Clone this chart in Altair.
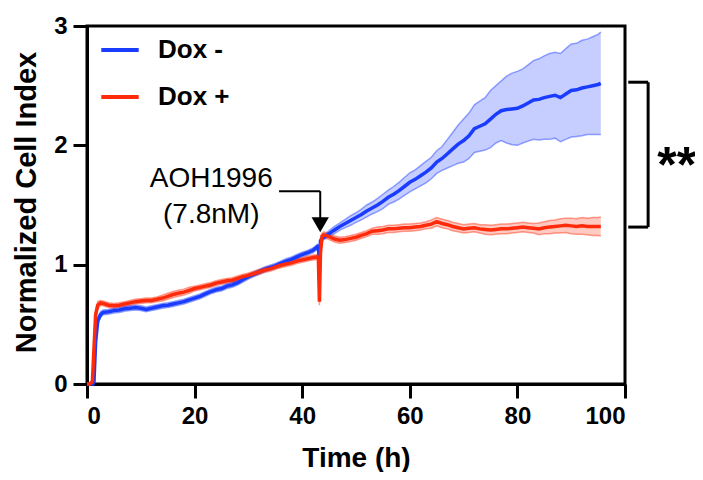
import altair as alt
import pandas as pd

# ---------------- data ----------------
times = [0, 0.5, 1.0, 1.3, 1.6, 2.0, 2.5,
         3, 4, 5, 6, 7, 8, 9, 10, 11, 12, 13, 14, 15, 16, 17, 18, 19, 20, 21, 22,
         23, 24, 25, 26, 27, 28, 29, 30, 31, 32, 33, 34, 35, 36, 37, 38, 39, 40, 41, 42,
         42.8, 43.0, 43.2, 43.4, 43.7,
         44, 45, 46, 47, 48, 49, 50, 51, 52, 53, 54, 55, 56, 57, 58, 59, 60, 61, 62, 63,
         64, 65, 66, 67, 68, 69, 70, 71, 72, 73, 74, 75, 76, 77, 78, 79, 80, 81, 82, 83,
         84, 85, 86, 87, 88, 89, 90, 91, 92, 93, 94, 95,
         95.5]

dox_minus = [0, 0, 0, 0.02, 0.35, 0.53, 0.58,
             0.60, 0.605, 0.615, 0.62, 0.63, 0.635, 0.64, 0.635, 0.625, 0.635,
             0.645, 0.655, 0.66, 0.67, 0.68, 0.69, 0.705, 0.72, 0.735, 0.755,
             0.775, 0.79, 0.80, 0.82, 0.83, 0.85, 0.875, 0.90, 0.92, 0.94,
             0.96, 0.975, 0.99, 1.01, 1.03, 1.045, 1.065, 1.085, 1.10, 1.12,
             1.15, 1.13, 1.06, 1.20, 1.22,
             1.23, 1.26, 1.29, 1.32, 1.345, 1.37, 1.395, 1.42, 1.45, 1.475,
             1.50, 1.53, 1.565, 1.59, 1.62, 1.655, 1.69, 1.715, 1.745, 1.775,
             1.81, 1.86, 1.89, 1.93, 1.97, 2.01, 2.04, 2.08, 2.14, 2.16,
             2.18, 2.22, 2.26, 2.29, 2.30, 2.305, 2.31, 2.33, 2.355, 2.38,
             2.385, 2.40, 2.41, 2.42, 2.40, 2.43, 2.46, 2.465, 2.48, 2.49,
             2.50, 2.51,
             2.52]

dox_minus_sd = [0, 0, 0, 0.03, 0.04, 0.03, 0.025,
                0.02, 0.02, 0.02, 0.02, 0.02, 0.02, 0.02, 0.02, 0.02, 0.02,
                0.02, 0.02, 0.02, 0.02, 0.02, 0.02, 0.02, 0.02, 0.02, 0.02,
                0.02, 0.02, 0.02, 0.02, 0.02, 0.02, 0.02, 0.02, 0.02, 0.02,
                0.02, 0.02, 0.02, 0.02, 0.02, 0.02, 0.02, 0.02, 0.02, 0.02,
                0.02, 0.02, 0.03, 0.03, 0.025,
                0.02, 0.025, 0.03, 0.03, 0.035, 0.04, 0.04, 0.045, 0.05, 0.05,
                0.055, 0.06, 0.06, 0.065, 0.07, 0.075, 0.08, 0.08, 0.085, 0.09,
                0.09, 0.095, 0.10, 0.12, 0.14, 0.16, 0.18, 0.19, 0.20, 0.21,
                0.22, 0.24, 0.24, 0.25, 0.28, 0.30, 0.31, 0.31, 0.32, 0.33,
                0.34, 0.35, 0.36, 0.36, 0.37, 0.38, 0.39, 0.39, 0.40, 0.40,
                0.41, 0.42,
                0.43]

dox_plus = [0, 0, 0.02, 0.30, 0.58, 0.66, 0.68,
            0.675, 0.66, 0.655, 0.66, 0.67, 0.68, 0.69, 0.695, 0.70, 0.70,
            0.71, 0.72, 0.735, 0.75, 0.76, 0.77, 0.785, 0.80, 0.81, 0.82,
            0.83, 0.845, 0.855, 0.865, 0.87, 0.885, 0.90, 0.91, 0.925, 0.94,
            0.955, 0.965, 0.98, 0.995, 1.005, 1.015, 1.03, 1.04, 1.05, 1.06,
            1.065, 1.06, 0.69, 1.10, 1.24,
            1.25, 1.235, 1.215, 1.205, 1.21, 1.22, 1.23, 1.245, 1.26, 1.28,
            1.285, 1.29, 1.30, 1.30, 1.305, 1.31, 1.31, 1.315, 1.32, 1.33,
            1.34, 1.36, 1.345, 1.335, 1.32, 1.31, 1.30, 1.305, 1.31, 1.30,
            1.295, 1.29, 1.295, 1.30, 1.30, 1.305, 1.31, 1.315, 1.31, 1.305,
            1.30, 1.31, 1.315, 1.32, 1.325, 1.33, 1.325, 1.32, 1.325, 1.32,
            1.32, 1.32,
            1.32]

dox_plus_sd = [0, 0, 0.02, 0.05, 0.04, 0.03, 0.02,
               0.02, 0.02, 0.02, 0.02, 0.02, 0.02, 0.02, 0.02, 0.02, 0.02,
               0.02, 0.025, 0.025, 0.025, 0.025, 0.025, 0.025, 0.02, 0.02, 0.02,
               0.02, 0.02, 0.02, 0.02, 0.02, 0.02, 0.02, 0.02, 0.02, 0.02,
               0.02, 0.02, 0.02, 0.02, 0.02, 0.02, 0.02, 0.02, 0.02, 0.02,
               0.02, 0.02, 0.03, 0.03, 0.025,
               0.025, 0.025, 0.025, 0.025, 0.025, 0.025, 0.025, 0.025, 0.025, 0.025,
               0.03, 0.03, 0.03, 0.03, 0.03, 0.03, 0.03, 0.03, 0.03, 0.03,
               0.035, 0.035, 0.035, 0.035, 0.035, 0.035, 0.035, 0.035, 0.035, 0.035,
               0.04, 0.04, 0.04, 0.04, 0.04, 0.04, 0.04, 0.04, 0.04, 0.04,
               0.05, 0.05, 0.055, 0.055, 0.06, 0.06, 0.065, 0.065, 0.07, 0.07,
               0.075, 0.075,
               0.08]

series_names = ["Dox -", "Dox +"]
series_colors = ["#1a3cff", "#ff2a0a"]
x_ticks = [0, 20, 40, 60, 80, 100]
y_ticks = [0, 1, 2, 3]

n = len(times)
df = pd.DataFrame({
    "time": times * 2,
    "value": dox_minus + dox_plus,
    "sd": dox_minus_sd + dox_plus_sd,
    "series": [series_names[0]] * n + [series_names[1]] * n,
})
df["lower"] = df["value"] - df["sd"]
df["upper"] = df["value"] + df["sd"]

FONT = "Liberation Sans"

x_axis = alt.Axis(values=x_ticks, title="Time (h)", titleX=269, titleY=82,
                  titleBaseline="alphabetic", titleAlign="center", labelPadding=6)
y_axis = alt.Axis(values=y_ticks, title="Normalized Cell Index", titleX=-52, titleY=176,
                  titleAngle=270, titleBaseline="alphabetic", titleAlign="center",
                  labelPadding=6, titleFontSize=29)
x_scale = alt.Scale(domain=[0, 100], nice=False, zero=False)
y_scale = alt.Scale(domain=[0, 3], nice=False)

def X(field="time"):
    return alt.X(f"{field}:Q", scale=x_scale, axis=x_axis)

def Y(field):
    return alt.Y(f"{field}:Q", scale=y_scale, axis=y_axis)

legend = alt.Legend(orient="none", legendX=12, legendY=3, title=None,
                    symbolType="stroke", symbolSize=1400, symbolStrokeWidth=4,
                    symbolOpacity=1, labelFont=FONT, labelFontSize=26,
                    labelFontWeight="bold", labelColor="black", labelOffset=17,
                    rowPadding=13, padding=0)
color = alt.Color("series:N", scale=alt.Scale(domain=series_names, range=series_colors),
                  legend=legend)

base = alt.Chart(df)
band = base.mark_area(opacity=0.25, interpolate="linear").encode(
    x=X(), y=Y("lower"), y2="upper:Q", color=color)
edge_lo = base.mark_line(opacity=0.45, strokeWidth=1.5).encode(
    x=X(), y=Y("lower"), color=color)
edge_hi = base.mark_line(opacity=0.45, strokeWidth=1.5).encode(
    x=X(), y=Y("upper"), color=color)
lines = base.mark_line(strokeWidth=3.5).encode(x=X(), y=Y("value"), color=color)

# annotation: AOH1996 arrow
ann_text = pd.DataFrame({"time": [23.1, 23.1], "value": [1.65, 1.348],
                         "label": ["AOH1996", "(7.8nM)"]})
texts = alt.Chart(ann_text).mark_text(font=FONT, fontSize=28, color="black",
                                      align="center", baseline="alphabetic").encode(
    x=X(), y=Y("value"), text="label:N")

arrow_seg = pd.DataFrame({"time": [35.7, 43.35], "time2": [43.35, 43.35],
                          "value": [1.616, 1.616], "value2": [1.616, 1.38]})
arrow_lines = alt.Chart(arrow_seg).mark_rule(color="black", strokeWidth=2).encode(
    x=X(), x2="time2:Q", y=Y("value"), y2="value2:Q")
arrow_head = alt.Chart(pd.DataFrame({"time": [43.35], "value": [1.335]})).mark_point(
    shape="triangle-down", filled=True, color="black", size=300, opacity=1).encode(
    x=X(), y=Y("value"))

# significance bracket
br = pd.DataFrame({"time": [100.6, 100.6, 104.3], "time2": [104.3, 104.3, 104.3],
                   "value": [2.529, 1.315, 2.529], "value2": [2.529, 1.315, 1.315]})
bracket = alt.Chart(br).mark_rule(color="black", strokeWidth=3).encode(
    x=X(), x2="time2:Q", y=Y("value"), y2="value2:Q")
stars = alt.Chart(pd.DataFrame({"time": [106.0], "value": [1.69], "label": ["**"]})).mark_text(
    font=FONT, fontSize=50, fontWeight="bold", color="black", align="left",
    baseline="alphabetic").encode(x=X(), y=Y("value"), text="label:N")

chart = alt.layer(band, edge_lo, edge_hi, lines, texts, arrow_lines, arrow_head,
                  bracket, stars).properties(
    width=538, height=358,
    autosize=alt.AutoSizeParams(type="none"),
    padding={"left": 79, "top": 18, "right": 70, "bottom": 88},
).configure_view(stroke="black", strokeWidth=3).configure_axis(
    domainColor="black", domainWidth=3, tickColor="black", tickWidth=3, tickSize=14,
    labelFont=FONT, labelFontSize=24, labelFontWeight="bold", labelColor="black",
    titleFont=FONT, titleFontSize=28, titleFontWeight="bold", titleColor="black",
    grid=False,
)

chart.save("out.html", embed_options={"renderer": "svg", "actions": False})
